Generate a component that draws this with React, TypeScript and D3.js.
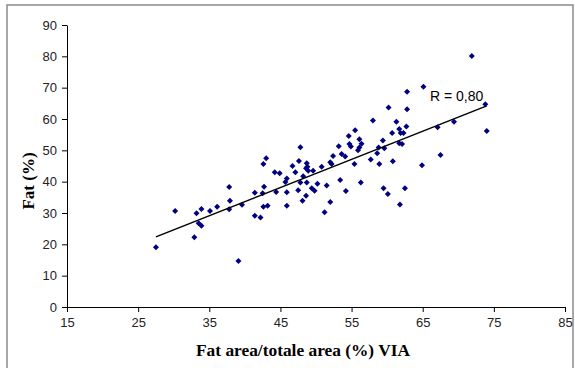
import React, { useRef, useEffect } from "react";
import { select, scaleLinear, axisBottom, axisLeft, line, symbol, symbolSquare, mean, extent } from "d3";

const WIDTH = 575;
const HEIGHT = 368;
const MARGIN = { top: 25, right: 10, bottom: 61, left: 67 };
const COLOR_POINT = "#000080";
const COLOR_AXIS = "#000000";
const COLOR_FRAME = "#8a8a8a";

const X_TICKS = [15, 25, 35, 45, 55, 65, 75, 85];
const Y_TICKS = [0, 10, 20, 30, 40, 50, 60, 70, 80, 90];

// Fat area / total area (%) VIA
const viaArea = [
  27.5, 30.2, 32.9, 33.2, 33.9, 33.5, 33.9, 35.1, 36.1, 37.8,
  37.9, 37.8, 39.1, 39.6, 41.4, 41.4, 42.2, 42.5, 42.7, 42.6,
  43.2, 43.0, 42.6, 44.2, 44.9, 44.4, 45.9, 45.9, 45.9, 45.7,
  47.8, 47.6, 46.7, 47.1, 48.7, 48.8, 48.6, 48.9, 49.6, 50.8,
  48.2, 47.8, 48.7, 50.2, 49.4, 49.8, 51.5, 53.4, 47.5, 48.6,
  48.1, 52.0, 51.2, 61.8, 54.2, 53.2, 54.6, 54.7, 54.9, 56.1,
  56.4, 56.1, 55.9, 52.4, 53.6, 54.1, 52.0, 52.2, 55.4, 55.5,
  58.0, 60.2, 62.8, 62.8, 61.3, 60.7, 61.7, 61.9, 62.3, 62.7,
  61.7, 62.1, 59.4, 58.8, 59.6, 58.6, 57.7, 58.9, 60.8, 64.9,
  59.5, 60.1, 62.5, 56.3, 65.1, 71.9, 73.8, 67.1, 69.4, 74.0,
  67.5
];

// Fat (%)
const fatPct = [
  19.1, 30.6, 22.3, 29.9, 31.3, 26.7, 25.9, 30.6, 32.0, 38.3,
  33.9, 31.2, 14.7, 32.6, 36.5, 29.1, 28.6, 36.3, 38.4, 32.0,
  32.3, 47.5, 45.6, 43.0, 42.7, 36.7, 36.6, 32.3, 41.0, 39.9,
  51.0, 46.6, 45.0, 43.0, 45.9, 44.8, 44.3, 43.5, 43.5, 44.8,
  41.7, 39.7, 39.7, 39.3, 37.9, 37.1, 38.8, 40.5, 37.3, 35.5,
  33.9, 33.5, 30.2, 32.7, 37.0, 51.3, 54.6, 52.0, 51.2, 53.5,
  52.1, 50.9, 50.0, 48.2, 48.8, 48.0, 46.2, 45.6, 45.6, 56.4,
  59.5, 63.7, 68.7, 63.1, 59.1, 55.5, 56.8, 55.5, 55.5, 57.6,
  52.3, 52.0, 53.1, 50.9, 50.7, 49.1, 47.1, 45.6, 46.5, 45.2,
  37.9, 36.1, 37.9, 39.7, 70.3, 80.1, 64.7, 57.4, 59.1, 56.2,
  48.5
];

const R_LABEL = "R = 0,80";

const fitLine = (xs, ys) => {
  const mx = mean(xs);
  const my = mean(ys);
  let sxy = 0;
  let sxx = 0;
  xs.forEach((x, i) => {
    sxy += (x - mx) * (ys[i] - my);
    sxx += (x - mx) * (x - mx);
  });
  const slope = sxy / sxx;
  const intercept = my - slope * mx;
  const [x0, x1] = extent(xs);
  return [
    [x0, intercept + slope * x0],
    [x1, intercept + slope * x1]
  ];
};

export default function App() {
  const chartDomNode = useRef(null);

  useEffect(() => {
    chartDomNode.current.innerHTML = "";

    const innerWidth = WIDTH - MARGIN.left - MARGIN.right;
    const innerHeight = HEIGHT - MARGIN.top - MARGIN.bottom;

    const root = select(chartDomNode.current)
      .append("svg")
      .attr("width", WIDTH)
      .attr("height", HEIGHT)
      .style("position", "absolute")
      .style("left", 0)
      .style("top", 0)
      .style("background", "#ffffff");

    root
      .append("rect")
      .attr("x", 7)
      .attr("y", 5)
      .attr("width", 566)
      .attr("height", 380)
      .attr("fill", "#ffffff")
      .attr("stroke", COLOR_FRAME)
      .attr("stroke-width", 1.5);

    const svg = root.append("g").attr("transform", `translate(${MARGIN.left},${MARGIN.top})`);

    const x = scaleLinear().domain([15, 85]).range([0, innerWidth]);
    const y = scaleLinear().domain([0, 90]).range([innerHeight, 0]);

    svg.append("g").call((g) => {
      g.attr("transform", `translate(0,${innerHeight})`);
      g.call(axisBottom(x).tickValues(X_TICKS).tickSize(5).tickPadding(6).tickSizeOuter(0));
      g.select(".domain").attr("stroke", COLOR_AXIS);
      g.selectAll(".tick line").attr("stroke", COLOR_AXIS);
      g.selectAll("text")
        .attr("fill", "#222")
        .style("font-family", "Arial, 'Liberation Sans', sans-serif")
        .style("font-size", "13px");
    });

    svg.append("g").call((g) => {
      g.call(axisLeft(y).tickValues(Y_TICKS).tickSize(5).tickPadding(5).tickSizeOuter(0));
      g.select(".domain").attr("stroke", COLOR_AXIS);
      g.selectAll(".tick line").attr("stroke", COLOR_AXIS);
      g.selectAll("text")
        .attr("fill", "#222")
        .style("font-family", "Arial, 'Liberation Sans', sans-serif")
        .style("font-size", "13px");
    });

    const points = viaArea.map((v, i) => [v, fatPct[i]]);

    svg
      .append("g")
      .selectAll("path")
      .data(points)
      .enter()
      .append("path")
      .attr("d", symbol(symbolSquare, 18))
      .attr("transform", (d) => `translate(${x(d[0])},${y(d[1])}) rotate(45)`)
      .attr("fill", COLOR_POINT);

    const trend = fitLine(viaArea, fatPct);
    svg
      .append("path")
      .datum(trend)
      .attr("fill", "none")
      .attr("stroke", "#000")
      .attr("stroke-width", 1.5)
      .attr(
        "d",
        line()
          .x((d) => x(d[0]))
          .y((d) => y(d[1]))
      );

    root
      .append("text")
      .attr("x", 430)
      .attr("y", 101)
      .attr("fill", "#000")
      .style("font-family", "Arial, 'Liberation Sans', sans-serif")
      .style("font-size", "14px")
      .text(R_LABEL);

    root
      .append("text")
      .attr("x", 303)
      .attr("y", 356)
      .attr("text-anchor", "middle")
      .attr("textLength", 214)
      .attr("lengthAdjust", "spacingAndGlyphs")
      .attr("fill", "#000")
      .style("font-family", "'Times New Roman', 'Liberation Serif', serif")
      .style("font-weight", "bold")
      .style("font-size", "16px")
      .text("Fat area/totale area (%) VIA");

    root
      .append("text")
      .attr("transform", "translate(34,181) rotate(-90)")
      .attr("text-anchor", "middle")
      .attr("fill", "#000")
      .style("font-family", "'Times New Roman', 'Liberation Serif', serif")
      .style("font-weight", "bold")
      .style("font-size", "17px")
      .text("Fat (%)");
  }, []);

  return <div ref={chartDomNode} />;
}
